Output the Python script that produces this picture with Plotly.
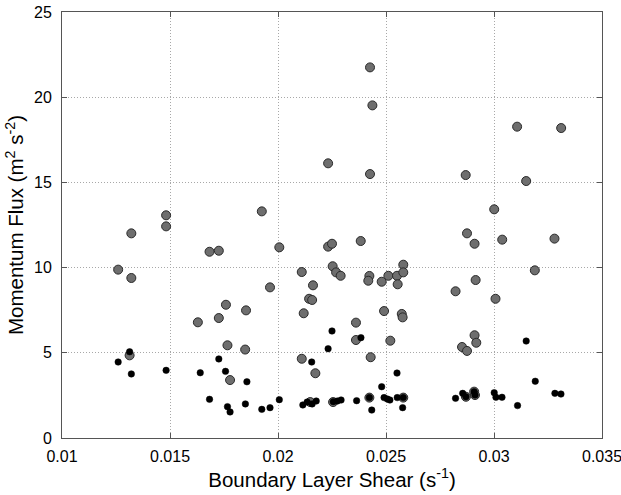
import plotly.graph_objects as go

# Gray (larger) points: boundary layer shear (s^-1), momentum flux (m^2 s^-2)
gray_x = [0.01482, 0.01482, 0.01321, 0.01683, 0.01726, 0.01260, 0.01321, 0.01759, 0.01726, 0.01629,
          0.01766, 0.01313, 0.01778, 0.02426, 0.02437, 0.02232, 0.02426, 0.01925, 0.02006, 0.02232,
          0.02250, 0.02383, 0.02110, 0.02253, 0.02269, 0.02290, 0.02423, 0.02418, 0.02480, 0.02511,
          0.02551, 0.02580, 0.02580, 0.02554, 0.01963, 0.02162, 0.02144, 0.02158, 0.01852, 0.02119,
          0.02491, 0.02573, 0.02577, 0.02361, 0.02361, 0.02520, 0.01848, 0.02110, 0.02429, 0.02173,
          0.03107, 0.03311, 0.02869, 0.03149, 0.03001, 0.02875, 0.02910, 0.03038, 0.03280, 0.03189,
          0.02915, 0.02822, 0.03007, 0.02910, 0.02918, 0.02852, 0.02875,
          0.02423, 0.02870, 0.02908, 0.02912, 0.02149, 0.02255, 0.02580]
gray_y = [13.07, 12.42, 12.01, 10.93, 10.99, 9.88, 9.39, 7.82, 7.04, 6.79,
          5.44, 4.85, 3.40, 21.75, 19.52, 16.12, 15.49, 13.30, 11.19, 11.23,
          11.40, 11.56, 9.74, 10.08, 9.72, 9.52, 9.51, 9.23, 9.17, 9.52,
          9.52, 10.17, 9.72, 9.02, 8.84, 8.96, 8.17, 8.10, 7.49, 7.32,
          7.45, 7.28, 7.08, 6.77, 5.75, 5.71, 5.19, 4.65, 4.74, 3.80,
          18.27, 18.19, 15.43, 15.08, 13.42, 12.01, 11.40, 11.64, 11.70, 9.84,
          9.27, 8.61, 8.17, 6.03, 5.59, 5.34, 5.11,
          2.37, 2.42, 2.72, 2.52, 2.11, 2.11, 2.37]

# Black (smaller) points
black_x = [0.01313, 0.01260, 0.01726, 0.01321, 0.01482, 0.01640, 0.01757, 0.01683, 0.01766, 0.01778,
           0.01856, 0.01849, 0.01925, 0.01963, 0.02006, 0.02250, 0.02384, 0.02232, 0.02156, 0.02551,
           0.02480, 0.02115, 0.02135, 0.02158, 0.02177, 0.02256, 0.02275, 0.02292, 0.02364, 0.02423,
           0.02434, 0.02491, 0.02506, 0.02518, 0.02552, 0.02580, 0.02577, 0.03149, 0.03191, 0.02822,
           0.02855, 0.02870, 0.02908, 0.02912, 0.03001, 0.03009, 0.03037, 0.03109, 0.03282, 0.03310]
black_y = [5.06, 4.46, 4.64, 3.76, 3.97, 3.83, 3.91, 2.27, 1.84, 1.53,
           3.30, 2.00, 1.68, 1.78, 2.25, 6.28, 5.89, 5.24, 4.46, 3.81,
           3.01, 1.94, 2.11, 2.00, 2.17, 2.13, 2.17, 2.23, 2.19, 2.37,
           1.64, 2.37, 2.29, 2.23, 2.37, 2.37, 1.78, 5.69, 3.33, 2.33,
           2.62, 2.42, 2.72, 2.52, 2.66, 2.39, 2.39, 1.90, 2.62, 2.58]

x_ticks = [0.01, 0.015, 0.02, 0.025, 0.03, 0.035]
x_labels = ["0.01", "0.015", "0.02", "0.025", "0.03", "0.035"]
y_ticks = [0, 5, 10, 15, 20, 25]
y_labels = ["0", "5", "10", "15", "20", "25"]

FONT = "Liberation Sans, Arial, Helvetica, sans-serif"

fig = go.Figure()
fig.add_trace(go.Scatter(
    x=gray_x, y=gray_y, mode="markers",
    marker=dict(size=9, color="#6e6e6e", line=dict(color="#2a2a2a", width=1)),
    showlegend=False, hoverinfo="skip"))
fig.add_trace(go.Scatter(
    x=black_x, y=black_y, mode="markers",
    marker=dict(size=6.5, color="#000000", line=dict(color="#000000", width=0.5)),
    showlegend=False, hoverinfo="skip"))

axis_common = dict(
    showline=True, linecolor="#555555", linewidth=1, mirror="ticks",
    ticks="inside", ticklen=5, tickcolor="#555555", tickwidth=1,
    showgrid=True, gridcolor="#a8a8a8", griddash="1px,2px", gridwidth=1,
    zeroline=False, tickfont=dict(family=FONT, size=16, color="#000"),
    ticklabeloverflow="allow",
)

fig.update_xaxes(range=[0.01, 0.0350001], tickvals=x_ticks, ticktext=x_labels,
                 ticklabelstandoff=4,
                 title=dict(text="Boundary Layer Shear (s<sup>-1</sup>)", standoff=8,
                            font=dict(family=FONT, size=20.5, color="#000")),
                 **axis_common)
fig.update_yaxes(range=[0, 25.00001], tickvals=y_ticks, ticktext=y_labels,
                 ticklabelstandoff=6,
                 title=dict(text="Momentum Flux (m<sup>2</sup> s<sup>-2</sup>)", standoff=4,
                            font=dict(family=FONT, size=20.5, color="#000")),
                 **axis_common)

fig.update_layout(
    width=621, height=495,
    margin=dict(l=62, r=19, t=12, b=57, autoexpand=False),
    paper_bgcolor="white", plot_bgcolor="white",
)

fig.write_html("out.html", config={"displayModeBar": False},
               post_script="document.body.style.margin='0px';")
